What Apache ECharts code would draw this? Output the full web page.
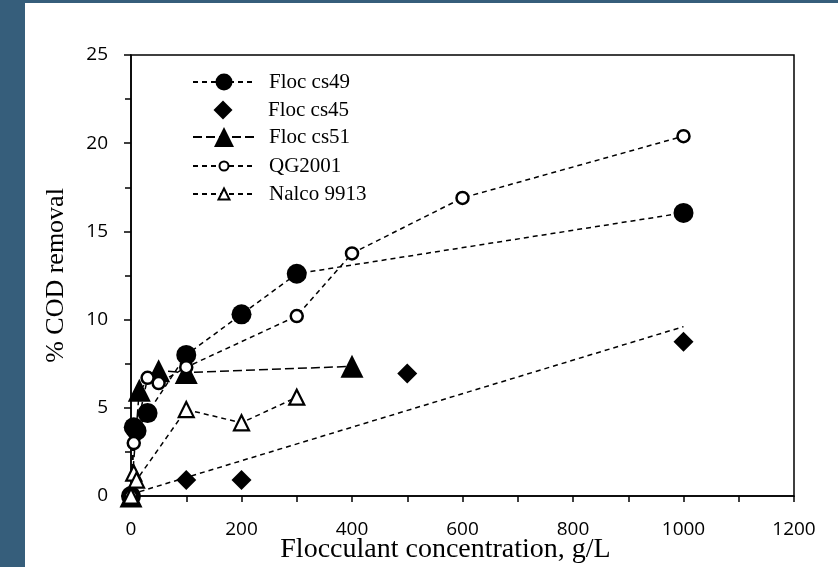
<!DOCTYPE html>
<html>
<head>
<meta charset="utf-8">
<script src="https://cdn.jsdelivr.net/npm/echarts@6/dist/echarts.min.js"></script>
<style>
  html, body { margin: 0; padding: 0; background: #365e7b; }
  #chart { position: absolute; left: 25px; top: 3px; width: 813px; height: 564px; background: #fff; }
</style>
</head>
<body>
<div id="chart"></div>
<script>
// data
const seriesNames = ["Floc cs49", "Floc cs45", "Floc cs51", "QG2001", "Nalco 9913"];

const cs49X = [0, 5, 10, 30, 100, 200, 300, 1000];
const cs49Y = [0, 3.9, 3.7, 4.7, 8.0, 10.3, 12.6, 16.05];

const cs45X = [0, 100, 200, 500, 1000];
const cs45Y = [0, 0.9, 0.9, 6.95, 8.75];

const cs51X = [0, 15, 50, 100, 400];
const cs51Y = [0, 6.0, 7.1, 7.0, 7.35];

const qgX = [0, 5, 30, 50, 100, 300, 400, 600, 1000];
const qgY = [0, 3.0, 6.7, 6.4, 7.3, 10.2, 13.75, 16.9, 20.4];

const nalcoX = [0, 5, 10, 100, 200, 300];
const nalcoY = [0, 1.3, 0.9, 4.9, 4.15, 5.6];

// linear trendline drawn for Floc cs45
const trendX = [0, 1000];
const trendY = [0.1, 9.6];

const xTicks = [0, 200, 400, 600, 800, 1000, 1200];
const yTicks = [0, 5, 10, 15, 20, 25];

const pairs = (xs, ys) => xs.map((x, i) => [x, ys[i]]);

const chart = echarts.init(document.getElementById("chart"));

const serif = "Liberation Serif";
const dashShort = [5, 4];
const dashLong = [9, 4];

// per series style: symbol, size in plot, size in legend
const styles = [
  { data: pairs(cs49X, cs49Y), symbol: "circle", size: 20, legendSize: 17, fill: "#000", border: 0, dash: dashShort, line: 1.5 },
  { data: pairs(cs45X, cs45Y), symbol: "diamond", size: 20, legendSize: 19, fill: "#000", border: 0, dash: dashShort, line: 0 },
  { data: pairs(cs51X, cs51Y), symbol: "triangle", size: 23, legendSize: 20, fill: "#000", border: 0, dash: dashLong, line: 1.5 },
  { data: pairs(qgX, qgY), symbol: "circle", size: 12, legendSize: 9, fill: "#fff", border: 2.5, dash: dashShort, line: 1.5 },
  { data: pairs(nalcoX, nalcoY), symbol: "triangle", size: 15, legendSize: 11, fill: "#fff", border: 2.2, dash: dashShort, line: 1.5 }
];

const legendRows = [79, 107, 134, 163, 191];

const series = styles.map((s, i) => ({
  name: seriesNames[i],
  type: "line",
  data: s.data,
  symbol: s.symbol,
  symbolSize: s.size,
  showSymbol: true,
  animation: false,
  itemStyle: { color: s.fill, borderColor: "#000", borderWidth: s.border, opacity: 1 },
  lineStyle: { color: "#000", width: s.line, type: s.dash, opacity: s.line ? 1 : 0 },
  z: 3 + i
}));

series.unshift({
  name: "trend",
  type: "line",
  data: pairs(trendX, trendY),
  symbol: "none",
  animation: false,
  lineStyle: { color: "#000", width: 1.5, type: dashShort },
  z: 2
});

const legends = styles.map((s, i) => ({
  data: [seriesNames[i]],
  orient: "vertical",
  left: 167,
  top: legendRows[i] - 12,
  padding: 0,
  itemWidth: 62,
  itemHeight: s.legendSize / 0.8,
  selectedMode: false,
  textStyle: { fontFamily: serif, fontSize: 21, color: "#000", padding: [0, 0, 0, 9], lineHeight: 24 }
}));

chart.setOption({
  backgroundColor: "#fff",
  legend: legends,
  grid: {
    left: 106,
    top: 52,
    right: 44,
    bottom: 71,
    outerBoundsMode: "none",
    show: true,
    borderColor: "#000",
    borderWidth: 1.5,
    backgroundColor: "transparent"
  },
  xAxis: {
    type: "value",
    min: xTicks[0],
    max: xTicks[xTicks.length - 1],
    interval: 200,
    name: "Flocculant concentration, g/L",
    nameLocation: "middle",
    nameMoveOverlap: false,
    nameGap: 40,
    nameTextStyle: { fontFamily: serif, fontSize: 28, color: "#000", padding: [0, 34, 0, 0] },
    axisLine: { lineStyle: { color: "#000", width: 1.5 } },
    axisTick: { length: 6, lineStyle: { color: "#000", width: 1.5 } },
    minorTick: { show: true, splitNumber: 2, length: 6, lineStyle: { color: "#000", width: 1.5 } },
    axisLabel: { fontFamily: "Open Sans", fontSize: 19, color: "#000", margin: 24, formatter: v => String(v) },
    splitLine: { show: false }
  },
  yAxis: {
    type: "value",
    min: yTicks[0],
    max: yTicks[yTicks.length - 1],
    interval: 5,
    name: "% COD removal",
    nameLocation: "middle",
    nameGap: 62,
    nameTextStyle: { fontFamily: serif, fontSize: 26, color: "#000" },
    axisLine: { lineStyle: { color: "#000", width: 1.5 } },
    axisTick: { length: 7, lineStyle: { color: "#000", width: 1.5 } },
    minorTick: { show: true, splitNumber: 2, length: 6, lineStyle: { color: "#000", width: 1.5 } },
    axisLabel: { fontFamily: "Open Sans", fontSize: 19, color: "#000", margin: 23 },
    splitLine: { show: false }
  },
  series: series
});
</script>
</body>
</html>
